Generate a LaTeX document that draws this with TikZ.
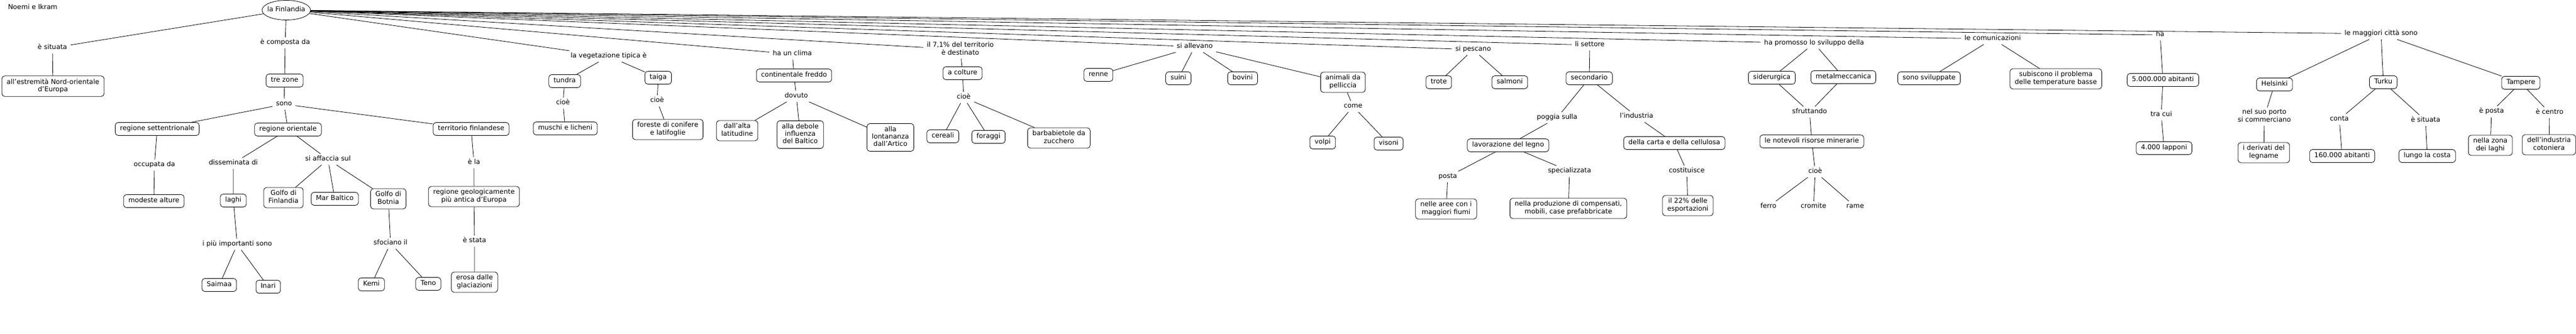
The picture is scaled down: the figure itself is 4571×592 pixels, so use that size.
\documentclass[tikz,border=0pt]{standalone}
\usepackage{fontspec}
\setmainfont{DejaVu Sans}
\usepackage{tikz}
\usetikzlibrary{shapes.geometric}

\begin{document}
\begin{tikzpicture}[x=1pt, y=-1pt,
	every node/.style={font=\fontsize{11.9}{13.3}\selectfont, align=center, execute at begin node=\strut, execute at end node=\strut},
	box/.style={draw, line width=0.8pt, rounded corners=5pt, inner xsep=8.5pt, inner ysep=4.8pt},
	lbl/.style={inner xsep=6pt, inner ysep=3pt},
	link/.style={line width=0.8pt}]

	\useasboundingbox (0,0) rectangle (4571,592);

	\node[ellipse, draw, line width=0.8pt, minimum width=86pt, minimum height=35pt, inner sep=0pt] (fin) at (508,18) {\makebox[0pt]{la Finlandia}};
	\node[lbl] (nm) at (58,14) {Noemi e Ikram};

	\node[lbl] (sit) at (93,85) {è situata};
	\node[box] (estr) at (94,153) {all'estremità Nord-orientale\\d'Europa};

	\node[lbl] (comp) at (506,76) {è composta da};
	\node[box] (tre) at (505,143) {tre zone};
	\node[lbl] (sono) at (504,185) {sono};
	\node[box] (sept) at (279,229) {regione settentrionale};
	\node[box] (ori) at (511,230) {regione orientale};
	\node[box] (terr) at (836,229) {territorio finlandese};
	\node[lbl] (occ) at (274,293) {occupata da};
	\node[box] (mod) at (273,357) {modeste alture};
	\node[lbl] (diss) at (414,290) {disseminata di};
	\node[box] (laghi) at (414,356) {laghi};
	\node[lbl] (imp) at (421,434) {i più importanti sono};
	\node[box] (saim) at (389,506) {Saimaa};
	\node[box] (inari) at (476,509) {Inari};
	\node[lbl] (aff) at (582,283) {si affaccia sul};
	\node[box] (gfin) at (503,351) {Golfo di\\Finlandia};
	\node[box] (mar) at (594,353) {Mar Baltico};
	\node[box] (gbot) at (689,353) {Golfo di\\Botnia};
	\node[lbl] (sfo) at (693,432) {sfociano il};
	\node[box] (kemi) at (659,505) {Kemi};
	\node[box] (teno) at (760,504) {Teno};
	\node[lbl] (ela) at (841,289) {è la};
	\node[box] (geo) at (841,349) {regione geologicamente\\più antica d'Europa};
	\node[lbl] (esta) at (842,428) {è stata};
	\node[box] (eros) at (842,501) {erosa dalle\\glaciazioni};

	\node[lbl] (veg) at (1080,100) {la vegetazione tipica è};
	\node[box] (tun) at (1002,144) {tundra};
	\node[lbl] (cio1) at (999,183) {cioè};
	\node[box] (musc) at (1003,228) {muschi e licheni};
	\node[box] (taiga) at (1168,138) {taiga};
	\node[lbl] (cio2) at (1166,179) {cioè};
	\node[box] (fore) at (1185,230) {foreste di conifere\\e latifoglie};

	\node[lbl] (clima) at (1406,96) {ha un clima};
	\node[box] (cont) at (1409,134) {continentale freddo};
	\node[lbl] (dov) at (1413,171) {dovuto};
	\node[box] (alta) at (1308,232) {dall'alta\\latitudine};
	\node[box] (deb) at (1420,239) {alla debole\\influenza\\del Baltico};
	\node[box] (lont) at (1580,244) {alla\\lontananza\\dall'Artico};

	\node[lbl] (dest) at (1704,88) {il 7,1\% del territorio\\è destinato};
	\node[box] (colt) at (1708,130) {a colture};
	\node[lbl] (cio3) at (1710,173) {cioè};
	\node[box] (cer) at (1673,242) {cereali};
	\node[box] (fora) at (1754,243) {foraggi};
	\node[box] (barb) at (1879,245) {barbabietole da\\zucchero};

	\node[lbl] (alle) at (2120,83) {si allevano};
	\node[box] (renne) at (1949,133) {renne};
	\node[box] (suini) at (2091,139) {suini};
	\node[box] (bov) at (2205,139) {bovini};
	\node[box] (pell) at (2383,146) {animali da\\pelliccia};
	\node[lbl] (come) at (2401,189) {come};
	\node[box] (volpi) at (2347,253) {volpi};
	\node[box] (vis) at (2464,255) {visoni};

	\node[lbl] (pesc) at (2614,88) {si pescano};
	\node[box] (trote) at (2553,146) {trote};
	\node[box] (salm) at (2679,146) {salmoni};

	\node[lbl] (sett) at (2821,80) {li settore};
	\node[box] (sec) at (2820,139) {secondario};
	\node[lbl] (pogg) at (2763,209) {poggia sulla};
	\node[box] (lav) at (2676,258) {lavorazione del legno};
	\node[lbl] (posta) at (2569,314) {posta};
	\node[box] (aree) at (2566,371) {nelle aree con i\\maggiori fiumi};
	\node[lbl] (spec) at (2785,304) {specializzata};
	\node[box] (prod) at (2783,370) {nella produzione di compensati,\\mobili, case prefabbricate};
	\node[lbl] (ind) at (2904,207) {l'industria};
	\node[box] (carta) at (2971,254) {della carta e della cellulosa};
	\node[lbl] (cost) at (2993,304) {costituisce};
	\node[box] (expo) at (2995,365) {il 22\% delle\\esportazioni};

	\node[lbl] (prom) at (3219,77) {ha promosso lo sviluppo della};
	\node[box] (sid) at (3144,138) {siderurgica};
	\node[box] (met) at (3271,137) {metalmeccanica};
	\node[lbl] (sfru) at (3211,199) {sfruttando};
	\node[box] (ris) at (3215,251) {le notevoli risorse minerarie};
	\node[lbl] (cio4) at (3221,305) {cioè};
	\node[lbl] (ferro) at (3138,367) {ferro};
	\node[lbl] (crom) at (3218,367) {cromite};
	\node[lbl] (rame) at (3292,367) {rame};

	\node[lbl] (comu) at (3536,69) {le comunicazioni};
	\node[box] (svil) at (3423,139) {sono sviluppate};
	\node[box] (subi) at (3648,140) {subiscono il problema\\delle temperature basse};

	\node[lbl] (ha) at (3833,62) {ha};
	\node[box] (ab) at (3838,142) {5.000.000 abitanti};
	\node[lbl] (tra) at (3835,204) {tra cui};
	\node[box] (lap) at (3840,263) {4.000 lapponi};

	\node[lbl] (citta) at (4225,60) {le maggiori città sono};
	\node[box] (hel) at (4036,150) {Helsinki};
	\node[lbl] (porto) at (4018,207) {nel suo porto\\si commerciano};
	\node[box] (der) at (4017,271) {i derivati del\\legname};
	\node[box] (turku) at (4229,146) {Turku};
	\node[lbl] (conta) at (4151,212) {conta};
	\node[box] (ab2) at (4156,277) {160.000 abitanti};
	\node[lbl] (sit2) at (4304,214) {è situata};
	\node[box] (costa) at (4307,277) {lungo la costa};
	\node[box] (tamp) at (4473,147) {Tampere};
	\node[lbl] (post2) at (4421,198) {è posta};
	\node[box] (zona) at (4419,258) {nella zona\\dei laghi};
	\node[lbl] (cent) at (4524,200) {è centro};
	\node[box] (cot) at (4523,257) {dell'industria\\cotoniera};

	\draw[link] (fin) -- (sit) -- (estr);
	\draw[link] (fin) -- (comp) -- (tre) -- (sono);
	\draw[link] (sono) -- (sept);
	\draw[link] (sono) -- (ori);
	\draw[link] (sono) -- (terr);
	\draw[link] (sept) -- (occ) -- (mod);
	\draw[link] (ori) -- (diss) -- (laghi) -- (imp);
	\draw[link] (imp) -- (saim);
	\draw[link] (imp) -- (inari);
	\draw[link] (ori) -- (aff);
	\draw[link] (aff) -- (gfin);
	\draw[link] (aff) -- (mar);
	\draw[link] (aff) -- (gbot) -- (sfo);
	\draw[link] (sfo) -- (kemi);
	\draw[link] (sfo) -- (teno);
	\draw[link] (terr) -- (ela) -- (geo) -- (esta) -- (eros);

	\draw[link] (fin) -- (veg);
	\draw[link] (veg) -- (tun) -- (cio1) -- (musc);
	\draw[link] (veg) -- (taiga) -- (cio2) -- (fore);

	\draw[link] (fin) -- (clima) -- (cont) -- (dov);
	\draw[link] (dov) -- (alta);
	\draw[link] (dov) -- (deb);
	\draw[link] (dov) -- (lont);

	\draw[link] (fin) -- (dest) -- (colt) -- (cio3);
	\draw[link] (cio3) -- (cer);
	\draw[link] (cio3) -- (fora);
	\draw[link] (cio3) -- (barb);

	\draw[link] (fin) -- (alle);
	\draw[link] (alle) -- (renne);
	\draw[link] (alle) -- (suini);
	\draw[link] (alle) -- (bov);
	\draw[link] (alle) -- (pell) -- (come);
	\draw[link] (come) -- (volpi);
	\draw[link] (come) -- (vis);

	\draw[link] (fin) -- (pesc);
	\draw[link] (pesc) -- (trote);
	\draw[link] (pesc) -- (salm);

	\draw[link] (fin) -- (sett) -- (sec);
	\draw[link] (sec) -- (pogg) -- (lav);
	\draw[link] (lav) -- (posta) -- (aree);
	\draw[link] (lav) -- (spec) -- (prod);
	\draw[link] (sec) -- (ind) -- (carta) -- (cost) -- (expo);

	\draw[link] (fin) -- (prom);
	\draw[link] (prom) -- (sid) -- (sfru);
	\draw[link] (prom) -- (met) -- (sfru);
	\draw[link] (sfru) -- (ris) -- (cio4);
	\draw[link] (cio4) -- (ferro);
	\draw[link] (cio4) -- (crom);
	\draw[link] (cio4) -- (rame);

	\draw[link] (fin) -- (comu);
	\draw[link] (comu) -- (svil);
	\draw[link] (comu) -- (subi);

	\draw[link] (fin) -- (ha) -- (ab) -- (tra) -- (lap);

	\draw[link] (fin) -- (citta);
	\draw[link] (citta) -- (hel) -- (porto) -- (der);
	\draw[link] (citta) -- (turku);
	\draw[link] (turku) -- (conta) -- (ab2);
	\draw[link] (turku) -- (sit2) -- (costa);
	\draw[link] (citta) -- (tamp);
	\draw[link] (tamp) -- (post2) -- (zona);
	\draw[link] (tamp) -- (cent) -- (cot);

\end{tikzpicture}
\end{document}
